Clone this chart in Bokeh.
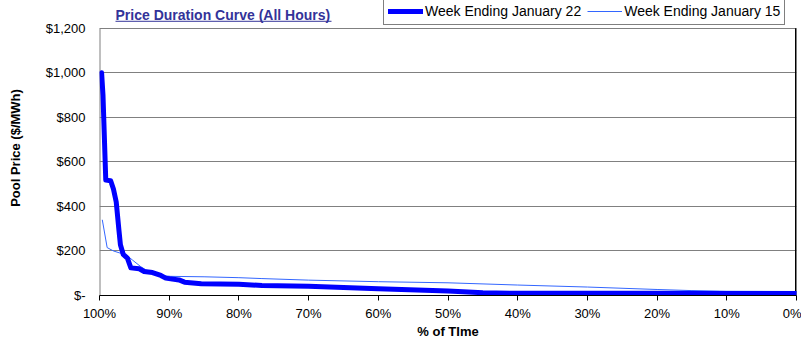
from bokeh.plotting import figure
from bokeh.models import (Range1d, FixedTicker, Label, Legend, LegendItem)
from bokeh.embed import file_html
from bokeh.resources import INLINE

# ---- data ----
jan22_pct = [99.7, 99.5, 99.1, 98.4, 98.0, 97.6, 97.2, 97.0, 96.6, 96.0, 95.5, 94.3,
             93.6, 92.4, 91.2, 90.5, 88.6, 87.8, 85.4, 80.0, 76.7, 70.0, 60.0, 50.0,
             45.0, 40.0, 30.0, 20.0, 10.0, 0.0]
jan22_price = [1000, 900, 518, 515, 478, 420, 290, 228, 185, 168, 124, 120,
               108, 103, 90, 78, 70, 60, 53, 50, 45, 42, 30, 20,
               12, 10, 10, 10, 9, 9]

jan15_pct = [99.6, 98.9, 98.0, 97.0, 96.0, 95.3, 94.1, 93.1, 91.2, 89.8, 85.0, 80.0,
             76.7, 70.0, 60.0, 50.0, 40.0, 30.0, 20.0, 15.0, 10.0, 0.0]
jan15_price = [340, 215, 200, 190, 178, 160, 130, 110, 90, 86, 84, 80,
               76, 69, 62, 57, 47, 38, 27, 22, 19, 18]

y_ticks = [0, 200, 400, 600, 800, 1000, 1200]
y_labels = ["$-", "$200", "$400", "$600", "$800", "$1,000", "$1,200"]
x_ticks = [100, 90, 80, 70, 60, 50, 40, 30, 20, 10, 0]
x_labels = ["100%", "90%", "80%", "70%", "60%", "50%", "40%", "30%", "20%", "10%", "0%"]

title_text = "Price Duration Curve (All Hours)"
series_names = ["Week Ending January 22", "Week Ending January 15"]

FONT = "Liberation Sans"
FS = "13px"

X_MAX, X_MIN = 100, 0
Y_TOP = 1200
# frame spans the whole height above the x axis; the chart box ends at Y_TOP
FRAME_H = 298
BOX_H = 270
Y_END = Y_TOP * FRAME_H / BOX_H

p = figure(width=801, height=341, output_backend="svg", toolbar_location=None,
           x_range=Range1d(X_MAX, X_MIN), y_range=Range1d(0, Y_END),
           min_border_left=99, min_border_right=5, min_border_top=0,
           min_border_bottom=43)
p.background_fill_color = "white"
p.border_fill_color = "white"
p.outline_line_color = None

# grid
p.xgrid.visible = False
p.ygrid.ticker = FixedTicker(ticks=y_ticks)
p.ygrid.grid_line_color = "#808080"
p.ygrid.grid_line_width = 1

# y axis
ya = p.yaxis[0]
ya.ticker = FixedTicker(ticks=y_ticks)
ya.major_label_overrides = {t: l for t, l in zip(y_ticks, y_labels)}
ya.major_label_text_font = FONT
ya.major_label_text_font_size = FS
ya.major_label_text_color = "black"
ya.major_tick_out = 0
ya.major_tick_in = 0
ya.minor_tick_out = 0
ya.minor_tick_in = 0
ya.axis_line_color = None
ya.major_label_standoff = 14
ya.axis_label = "Pool Price ($/MWh)"
ya.axis_label_text_font = FONT
ya.axis_label_text_font_size = FS
ya.axis_label_text_font_style = "bold"
ya.axis_label_text_color = "black"
ya.axis_label_standoff = 20

# x axis
xa = p.xaxis[0]
xa.ticker = FixedTicker(ticks=x_ticks)
xa.major_label_overrides = {t: l for t, l in zip(x_ticks, x_labels)}
xa.major_label_text_font = FONT
xa.major_label_text_font_size = FS
xa.major_label_text_color = "black"
xa.major_tick_out = 5
xa.major_tick_in = 0
xa.minor_tick_out = 0
xa.minor_tick_in = 0
xa.major_tick_line_color = "black"
xa.axis_line_color = "black"
xa.major_label_standoff = 5
xa.axis_label = "% of TIme"
xa.axis_label_text_font = FONT
xa.axis_label_text_font_size = FS
xa.axis_label_text_font_style = "bold"
xa.axis_label_text_color = "black"
xa.axis_label_standoff = 0

# chart box borders (left grey, right black)
p.segment(x0=[X_MAX], y0=[0], x1=[X_MAX], y1=[Y_TOP], line_color="#808080", line_width=2)
p.segment(x0=[X_MIN], y0=[0], x1=[X_MIN], y1=[Y_TOP], line_color="black", line_width=3)

# lines
r15 = p.line(jan15_pct, jan15_price, line_color="#3366FF", line_width=1)
r22 = p.line(jan22_pct, jan22_price, line_color="#0000FF", line_width=5,
             line_join="round", line_cap="round")

# legend
legend = Legend(items=[LegendItem(label=series_names[0], renderers=[r22]),
                       LegendItem(label=series_names[1], renderers=[r15])],
                orientation="horizontal", location=(284, 270),
                label_text_font=FONT, label_text_font_size="14px",
                label_text_color="black", glyph_width=35, glyph_height=18,
                label_standoff=2, spacing=6, padding=4, margin=0,
                label_height=18,
                border_line_color="black", border_line_width=1,
                background_fill_color="white", background_fill_alpha=1)
p.add_layout(legend, "center")

# title with underline (placed in data space above the chart box)
tx0 = X_MAX - (115 - 99) / 697 * 100
tx1 = X_MAX - (331 - 99) / 697 * 100
ty = (FRAME_H - 15) / BOX_H * Y_TOP
uy = (FRAME_H - 21) / BOX_H * Y_TOP
p.add_layout(Label(x=tx0, y=ty, text=title_text, text_font=FONT,
                   text_font_size="14px", text_font_style="bold",
                   text_color="#333399", text_baseline="alphabetic"))
p.segment(x0=[tx0], y0=[uy], x1=[tx1], y1=[uy], line_color="#333399", line_width=1)

open("out.html", "w").write(file_html(p, INLINE))
